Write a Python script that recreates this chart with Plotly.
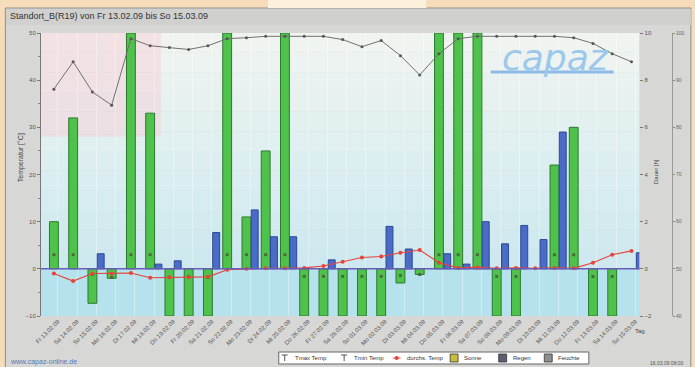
import plotly.graph_objects as go

# --- data -------------------------------------------------------------
tage = ["Fr 13.02.09", "Sa 14.02.09", "So 15.02.09", "Mo 16.02.09", "Di 17.02.09",
        "Mi 18.02.09", "Do 19.02.09", "Fr 20.02.09", "Sa 21.02.09", "So 22.02.09",
        "Mo 23.02.09", "Di 24.02.09", "Mi 25.02.09", "Do 26.02.09", "Fr 27.02.09",
        "Sa 28.02.09", "So 01.03.09", "Mo 02.03.09", "Di 03.03.09", "Mi 04.03.09",
        "Do 05.03.09", "Fr 06.03.09", "Sa 07.03.09", "So 08.03.09", "Mo 09.03.09",
        "Di 10.03.09", "Mi 11.03.09", "Do 12.03.09", "Fr 13.03.09", "Sa 14.03.09",
        "So 15.03.09"]
tag_nr = list(range(len(tage)))

sonne = [10, 32, -7.3, -2, 50, 33, -10, -10, -10, 50, 11, 25, 50, -10, -10, -10,
         -10, -10, -3, -1.2, 50, 50, 50, -10, -10, None, 22, 30, -10, -10, None]
regen = [None, None, 3.2, None, None, 1.0, 1.7, None, 7.7, None, 12.5, 6.8, 6.8,
         None, 1.9, None, None, 9.0, 4.2, None, 3.2, 1.0, 10.0, 5.3, 9.2, 6.2,
         29.0, None, None, None, 3.4]
temp_mittel = [-1.0, -2.6, -1.0, -1.0, -0.9, -1.9, -1.8, -1.8, -1.7, -0.2, 0.0, 0.1,
               0.1, 0.2, 0.6, 1.5, 2.4, 2.6, 3.4, 4.0, 1.3, 0.2, 0.3, 0.1, 0.2, 0.1,
               0.2, 0.1, 1.3, 3.0, 3.8]
temp_max = [3, 3, None, None, 3, 3, None, None, None, 3, 3, 3, 3, None, None, None,
            None, None, None, None, 3, 3, 3, None, None, None, 3, 3, None, None, None]
temp_min = [None, None, -1.2, -1.8, None, None, -1.8, -1.6, -1.8, None, None, None,
            None, -1.6, -1.6, -1.6, -1.6, -1.6, -1.4, -1.2, None, None, None, -1.6,
            -1.6, None, None, None, -1.6, -1.6, None]
feuchte = [88.1, 93.9, 87.5, 84.7, 98.8, 97.3, 96.9, 96.5, 97.3, 98.8, 99.0, 99.3,
           99.3, 99.3, 99.3, 98.6, 97.1, 98.4, 95.2, 91.1, 95.6, 98.8, 99.3, 99.3,
           99.3, 99.3, 99.3, 99.0, 97.8, 95.6, 93.9]

temp_ticks = [-10, 0, 10, 20, 30, 40, 50]
dauer_ticks = [-2, 0, 2, 4, 6, 8, 10]
feuchte_ticks = [40, 50, 60, 70, 80, 90, 100]

legende = [("Tmax Temp", "tmax"), ("Tmin Temp", "tmin"), ("durchs. Temp", "temp"),
           ("Sonne", "sonne"), ("Regen", "regen"), ("Feuchte", "feuchte")]

# --- geometry helpers (pixel -> paper) ----------------------------------
W_FIG, H_FIG = 695, 367
ML, MR, MT, MB = 41, 10, 33, 51
PW = W_FIG - ML - MR
PH = H_FIG - MT - MB


def px(x):
    return (x - ML) / PW


def py(y):
    return (H_FIG - MB - y) / PH


FONT = "Liberation Sans"
GRUEN, GRUEN_RAND = "#4fc24c", "#2c7a30"
BLAU, BLAU_RAND = "#4b6cc6", "#2b4896"
ROT = "#e8423a"
GRAU = "#707070"

fig = go.Figure()

fig.add_trace(go.Bar(x=tag_nr, y=sonne, width=0.46, name="Sonne",
                     marker=dict(color=GRUEN, line=dict(color=GRUEN_RAND, width=1))))
fig.add_trace(go.Bar(x=[i + 0.43 for i in tag_nr], y=regen, width=0.36, name="Regen",
                     marker=dict(color=BLAU, line=dict(color=BLAU_RAND, width=1))))
fig.add_trace(go.Scatter(x=tag_nr, y=temp_max, mode="markers", name="Tmax Temp",
                         marker=dict(symbol="square", size=3, color="#4a6a3a")))
fig.add_trace(go.Scatter(x=tag_nr, y=temp_min, mode="markers", name="Tmin Temp",
                         marker=dict(symbol="square", size=3, color="#4a6a3a")))
fig.add_trace(go.Scatter(x=tag_nr, y=temp_mittel, mode="lines+markers", name="durchs. Temp",
                         line=dict(color=ROT, width=1.1),
                         marker=dict(size=4, color=ROT)))
fig.add_trace(go.Scatter(x=tag_nr, y=feuchte, yaxis="y3", mode="lines+markers",
                         name="Feuchte", line=dict(color=GRAU, width=1),
                         marker=dict(size=3, color="#555555")))

# --- background shapes ------------------------------------------------
shapes = []
# outer panel + title bar
shapes.append(dict(type="rect", xref="paper", yref="paper", layer="below",
                   x0=px(5), x1=px(697), y0=py(369), y1=py(8),
                   fillcolor="#d7d7d5", line=dict(color="#8c8c8c", width=1)))
shapes.append(dict(type="rect", xref="paper", yref="paper", layer="below",
                   x0=px(270), x1=px(430), y0=py(8), y1=py(-2),
                   fillcolor="#fdf0dc", line=dict(width=0)))
shapes.append(dict(type="rect", xref="paper", yref="paper", layer="below",
                   x0=px(6), x1=px(697), y0=py(25), y1=py(9),
                   fillcolor="#d0d0ce", line=dict(width=0)))
# plot background: cyan below zero, soft gradient above
shapes.append(dict(type="rect", xref="x domain", yref="y", layer="below",
                   x0=0, x1=1, y0=-10, y1=0, fillcolor="#b5e2ec", line=dict(width=0)))
c0, c1 = (205, 233, 239), (240, 244, 241)
n = 12
for k in range(n):
    t = k / (n - 1)
    col = tuple(round(a + (b - a) * t) for a, b in zip(c0, c1))
    shapes.append(dict(type="rect", xref="x domain", yref="y", layer="below",
                       x0=0, x1=1, y0=50 * k / n, y1=50 * (k + 1) / n,
                       fillcolor="rgb(%d,%d,%d)" % col, line=dict(width=0)))
shapes.append(dict(type="rect", xref="paper", yref="y", layer="below",
                   x0=px(41), x1=px(162), y0=28, y1=50,
                   fillcolor="rgba(246,205,212,0.45)", line=dict(width=0)))
# zero line
shapes.append(dict(type="line", xref="x domain", yref="y", layer="above",
                   x0=0, x1=1, y0=0, y1=0, line=dict(color="#6a5db8", width=1.5)))
# logo underline
shapes.append(dict(type="line", xref="paper", yref="paper",
                   x0=px(495), x1=px(619), y0=py(72), y1=py(72),
                   line=dict(color="#8cbbe6", width=3)))

# --- legend box (drawn by hand, compact) -------------------------------
annotations = []
shapes.append(dict(type="rect", xref="paper", yref="paper",
                   x0=px(281), x1=px(594), y0=py(364), y1=py(352),
                   fillcolor="#ffffff", line=dict(color="#666666", width=1)))
leg_x = [287, 347, 400, 458, 507, 553]
ly = py(358)
for (txt, kind), xi in zip(legende, leg_x):
    if kind in ("tmax", "tmin"):
        shapes.append(dict(type="line", xref="paper", yref="paper",
                           x0=px(xi - 3), x1=px(xi + 3), y0=py(355), y1=py(355),
                           line=dict(color="#555555", width=1)))
        shapes.append(dict(type="line", xref="paper", yref="paper",
                           x0=px(xi), x1=px(xi), y0=py(355), y1=py(361),
                           line=dict(color="#555555", width=1)))
    elif kind == "temp":
        shapes.append(dict(type="line", xref="paper", yref="paper",
                           x0=px(xi - 4), x1=px(xi + 4), y0=ly, y1=ly,
                           line=dict(color=ROT, width=1)))
        shapes.append(dict(type="circle", xref="paper", yref="paper",
                           x0=px(xi - 2), x1=px(xi + 2), y0=py(356), y1=py(360),
                           fillcolor=ROT, line=dict(width=0)))
    else:
        fill = {"sonne": "#c8bc3a", "regen": "#5a5f72", "feuchte": "#8a8f8a"}[kind]
        shapes.append(dict(type="rect", xref="paper", yref="paper",
                           x0=px(xi - 4), x1=px(xi + 4), y0=py(362), y1=py(354),
                           fillcolor=fill, line=dict(color="#333333", width=0.8)))
    annotations.append(dict(xref="paper", yref="paper", x=px(xi + 8), y=ly,
                            text=txt, showarrow=False, xanchor="left", yanchor="middle",
                            font=dict(family=FONT, size=6, color="#333333")))

# --- texts ------------------------------------------------------------
annotations += [
    dict(xref="paper", yref="paper", x=px(8), y=py(16), xanchor="left", yanchor="middle",
         text="Standort_B(R19) von Fr 13.02.09 bis So 15.03.09", showarrow=False,
         font=dict(family=FONT, size=9, color="#333333")),
    dict(xref="paper", yref="paper", x=px(15), y=py(158), textangle=-90,
         text="Temperatur [°C]", showarrow=False,
         font=dict(family=FONT, size=7, color="#444444")),
    dict(xref="paper", yref="paper", x=px(667), y=py(172), textangle=-90,
         text="Dauer [h]", showarrow=False,
         font=dict(family=FONT, size=6, color="#444444")),
    dict(xref="paper", yref="paper", x=px(646), y=py(336), xanchor="center",
         text="Tag", showarrow=False, font=dict(family=FONT, size=6, color="#444444")),
    dict(xref="paper", yref="paper", x=px(560), y=py(57), xanchor="center",
         yanchor="middle", text="<i>capaz</i>", showarrow=False,
         font=dict(family="DejaVu Sans", size=36, color="#9cc8ec")),
    dict(xref="paper", yref="paper", x=px(8), y=py(362), xanchor="left", yanchor="middle",
         text="www.capaz-online.de", showarrow=False,
         font=dict(family=FONT, size=7, color="#5a7ab0")),
    dict(xref="paper", yref="paper", x=px(692), y=py(363), xanchor="right",
         yanchor="middle", text="16.03.09 08:00", showarrow=False,
         font=dict(family=FONT, size=5, color="#555555")),
]

tick_font = dict(family=FONT, size=6, color="#555555")

fig.update_layout(
    width=W_FIG, height=H_FIG,
    margin=dict(l=ML, r=MR, t=MT, b=MB),
    paper_bgcolor="#f7dcb9",
    plot_bgcolor="rgba(0,0,0,0)",
    barmode="overlay",
    showlegend=False,
    shapes=shapes,
    annotations=annotations,
    xaxis=dict(domain=[0, px(645)], range=[-0.67, 30.41],
               tickmode="array", tickvals=[i + 0.2 for i in tag_nr], ticktext=tage,
               tickangle=-45, tickfont=tick_font, ticks="", showgrid=True,
               gridcolor="rgba(255,255,255,0.35)", zeroline=False, showline=False),
    yaxis=dict(range=[-10, 50], tickvals=temp_ticks, tickfont=tick_font,
               ticks="outside", ticklen=3, tickcolor="#777777",
               minor=dict(dtick=5, ticks="outside", ticklen=2, tickcolor="#888888"),
               showgrid=False, zeroline=False, showline=True,
               linecolor="#777777", linewidth=1),
    yaxis2=dict(range=[-2, 10], tickvals=dauer_ticks, overlaying="y", side="right",
                anchor="x", tickfont=tick_font, ticks="outside", ticklen=3,
                tickcolor="#777777", showgrid=False, zeroline=False, showline=False),
    yaxis3=dict(range=[40, 100], tickvals=feuchte_ticks, overlaying="y", side="right",
                anchor="free", position=px(678), tickfont=dict(family=FONT, size=5, color="#666666"),
                ticks="outside", ticklen=2, tickcolor="#888888", showgrid=False,
                zeroline=False, showline=True, linecolor="#999999", linewidth=1),
)

# keep y2 visible by giving it an (empty) trace
fig.add_trace(go.Scatter(x=[None], y=[None], yaxis="y2", showlegend=False))

fig.write_html("out.html")
